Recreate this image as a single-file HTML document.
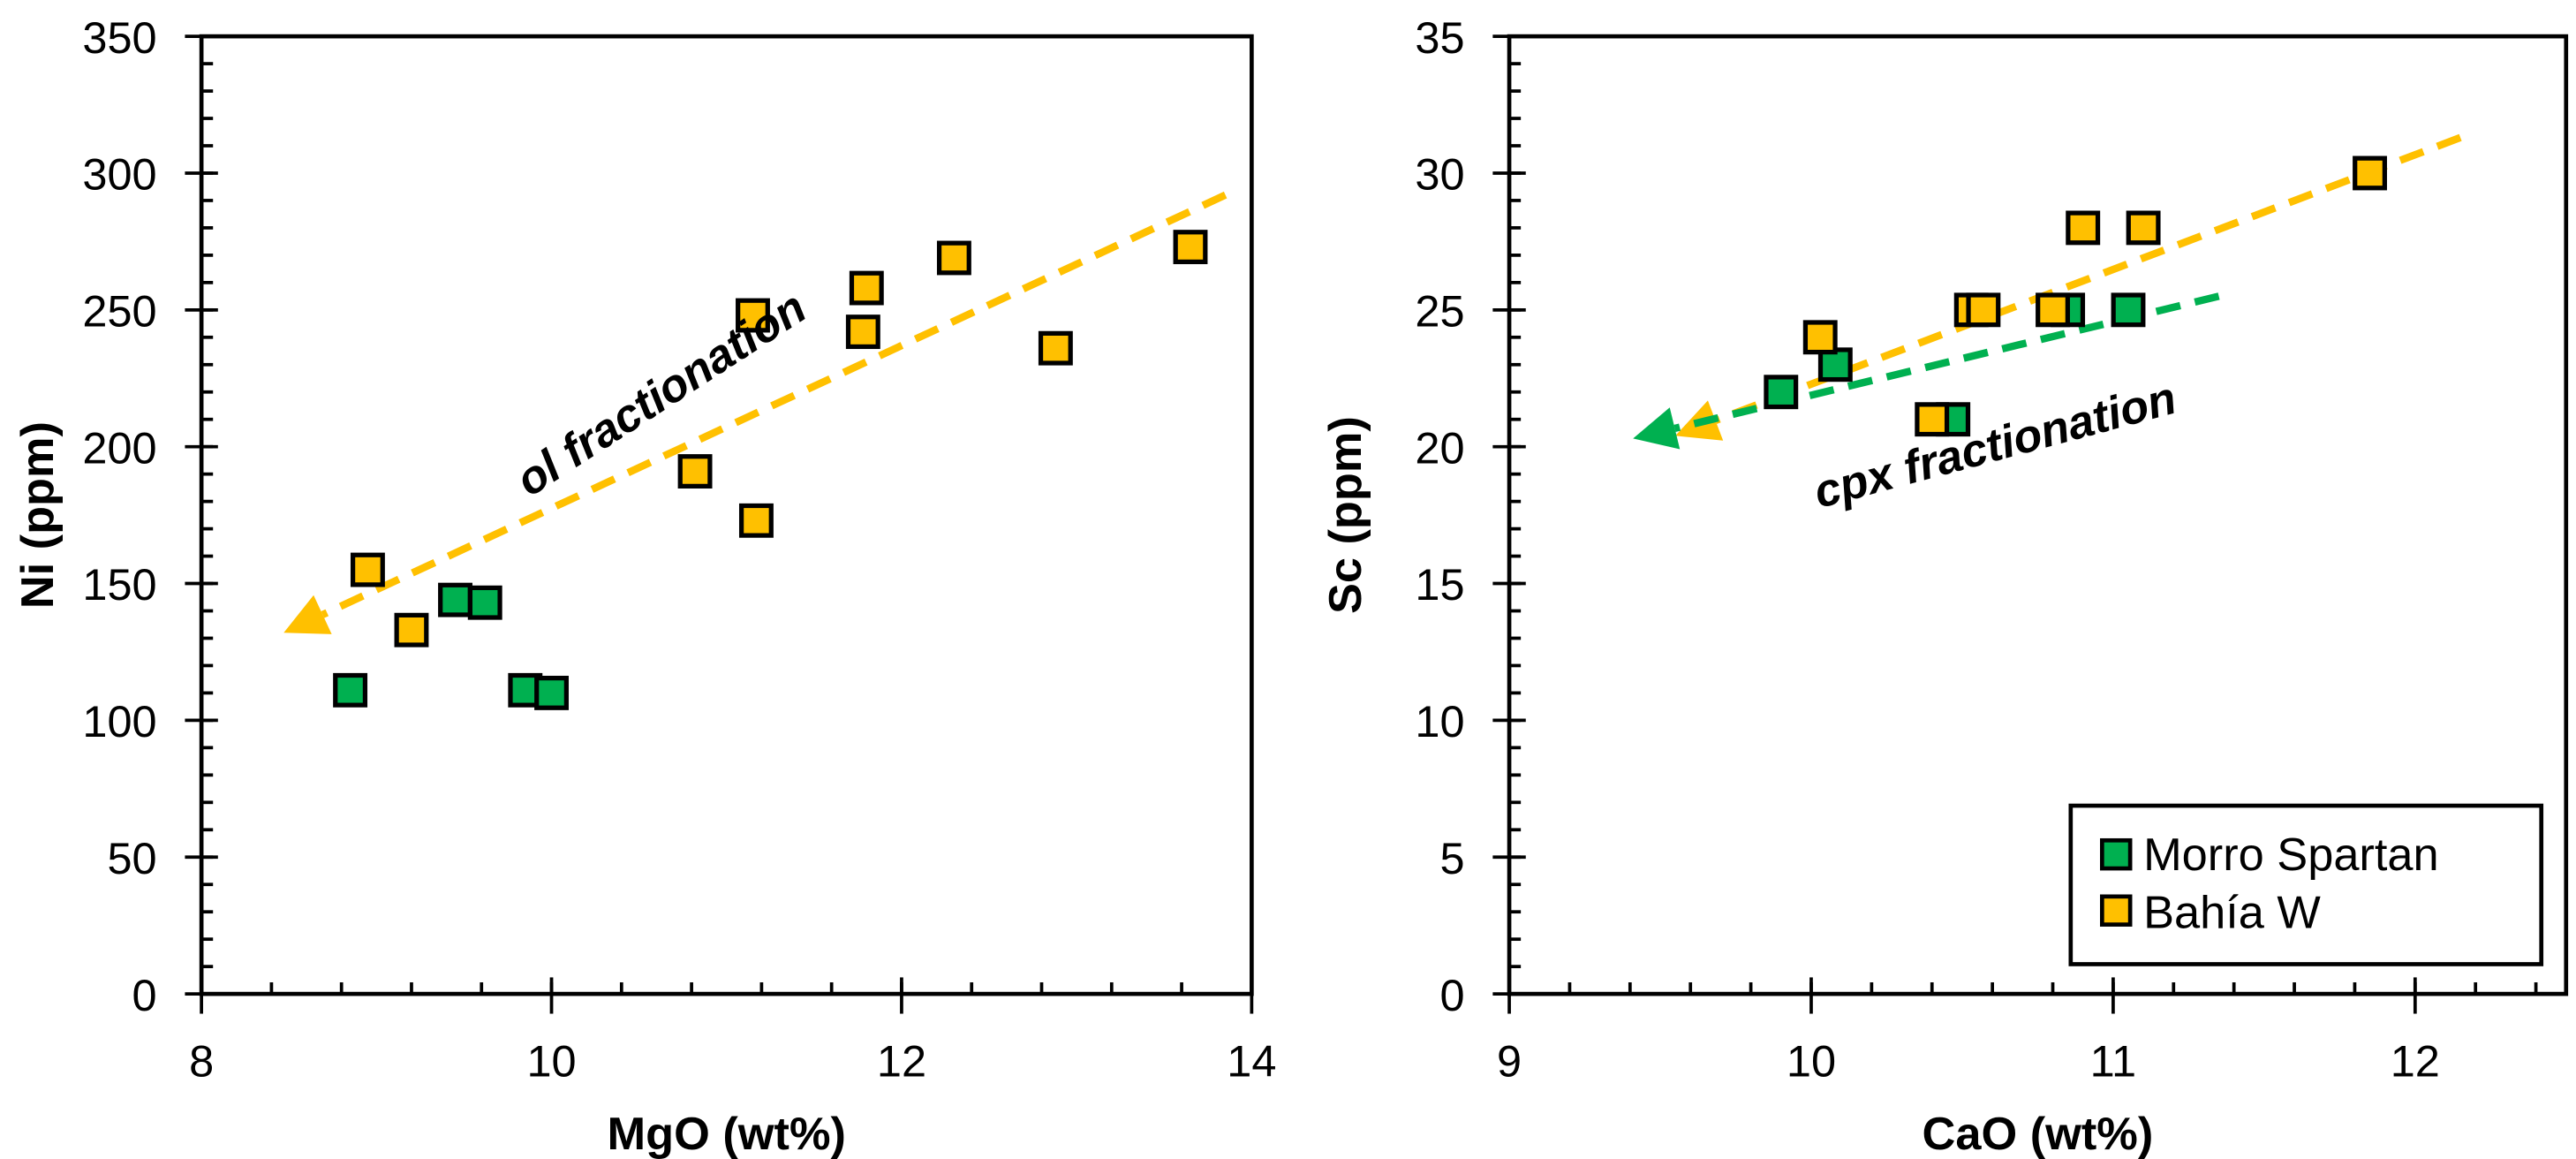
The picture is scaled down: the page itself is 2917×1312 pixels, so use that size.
<!DOCTYPE html>
<html><head><meta charset="utf-8"><style>
html,body{margin:0;padding:0;background:#fff;}
svg{display:block;font-family:"Liberation Sans",sans-serif;}
</style></head><body>
<svg id="chart" width="2917" height="1312" viewBox="0 0 1560 702" preserveAspectRatio="none" xmlns="http://www.w3.org/2000/svg">
<g id="left"></g>
<g id="right"></g>
</svg>
<script>
// Left panel data
const mgoYellow = [8.95, 9.2, 10.82, 11.15, 11.17, 11.78, 11.8, 12.3, 12.88, 13.65];
const niYellow  = [155, 133, 191, 248, 173, 242, 258, 269, 236, 273];
const mgoGreen  = [8.85, 9.45, 9.62, 9.85, 10.0];
const niGreen   = [111, 144, 143, 111, 110];
const leftXTicks = [8, 10, 12, 14];
const leftYTicks = [0, 50, 100, 150, 200, 250, 300, 350];
// Right panel data
const caoYellow = [10.03, 10.4, 10.53, 10.57, 10.8, 10.9, 11.1, 11.85];
const scYellow  = [24, 21, 25, 25, 25, 28, 28, 30];
const caoGreen  = [9.9, 10.08, 10.47, 10.85, 11.05];
const scGreen   = [22, 23, 21, 25, 25];
const rightXTicks = [9, 10, 11, 12];
const rightYTicks = [0, 5, 10, 15, 20, 25, 30, 35];
// trend lines [x0,y0,x1(tip),y1(tip)]
const olTrend = [13.85, 292, 8.47, 132];
const cpxTrendBahia = [12.15, 31.3, 9.55, 20.4];
const cpxTrendMorro = [11.35, 25.5, 9.41, 20.3];

const NS = "http://www.w3.org/2000/svg";
const YEL = "#FFC000", GRN = "#00B050";
function mk(parent, tag, attrs, text){
  const e = document.createElementNS(NS, tag);
  for (const k in attrs) e.setAttribute(k, attrs[k]);
  if (text !== undefined) e.textContent = text;
  parent.appendChild(e);
  return e;
}
function scale(d0,d1,r0,r1){ return v => r0 + (v-d0)/(d1-d0)*(r1-r0); }

function panel(g, cfg){
  const X = scale(cfg.xmin, cfg.xmax, cfg.px0, cfg.px1);
  const Y = scale(cfg.ymin, cfg.ymax, 602, 22);
  let f = mk(g,'rect',{x:cfg.px0,y:22,width:cfg.px1-cfg.px0,height:580,fill:'none',stroke:'#000','stroke-width':2.5});
   
  for (let v=cfg.xmin; v<=cfg.xmax+1e-9; v+=cfg.xminor){
    mk(g,'line',{x1:X(v),x2:X(v),y1:602,y2:595,stroke:'#000','stroke-width':2});
  }
  for (let v=cfg.ymin; v<=cfg.ymax+1e-9; v+=cfg.yminor){
    mk(g,'line',{x1:cfg.px0,x2:cfg.px0+7,y1:Y(v),y2:Y(v),stroke:'#000','stroke-width':2});
  }
  cfg.xt.forEach(v=>{
    mk(g,'line',{x1:X(v),x2:X(v),y1:592,y2:614,stroke:'#000','stroke-width':2});
    const t = mk(g,'text',{x:X(v),y:652,'text-anchor':'middle','font-size':27},String(v));
     
  });
  cfg.yt.forEach(v=>{
    mk(g,'line',{x1:cfg.px0-10,x2:cfg.px0+10,y1:Y(v),y2:Y(v),stroke:'#000','stroke-width':2});
    const t = mk(g,'text',{x:cfg.px0-27,y:Y(v)+10,'text-anchor':'end','font-size':27},String(v));
     
  });
  let xt = mk(g,'text',{x:(cfg.px0+cfg.px1)/2,y:696,'text-anchor':'middle','font-size':28,'font-weight':'bold'},cfg.xlabel);
   
  const ycx = cfg.px0-90, ycy = 312;
  let yt = mk(g,'text',{x:ycx,y:ycy,'text-anchor':'middle','font-size':28,'font-weight':'bold',transform:`rotate(-90 ${ycx} ${ycy})`},cfg.ylabel);
   
  cfg.trends.forEach(tr=>{
    const [a,b,c,d,col,name] = tr;
    const x0=X(a),y0=Y(b),x1=X(c),y1=Y(d);
    const ang = Math.atan2(y1-y0,x1-x0), L=26, W=13;
    const bx = x1-L*Math.cos(ang), by = y1-L*Math.sin(ang);
    let l = mk(g,'line',{x1:x0,y1:y0,x2:bx,y2:by,stroke:col,'stroke-width':4.5,'stroke-dasharray':'15 9'});
     
    const px = -Math.sin(ang), py = Math.cos(ang);
    let h = mk(g,'polygon',{points:`${x1},${y1} ${bx+W*px},${by+W*py} ${bx-W*px},${by-W*py}`,fill:col});
     
  });
  const drawPts=(xs,ys,col,name)=>{
    xs.forEach((v,i)=>{
      let r = mk(g,'rect',{x:X(v)-9,y:Y(ys[i])-9,width:18,height:18,fill:col,stroke:'#000','stroke-width':2.8});
       
    });
  };
  drawPts(cfg.gx,cfg.gy,GRN,'morro-spartan-point');
  drawPts(cfg.yx,cfg.yy,YEL,'bahia-w-point');
}

panel(document.getElementById('left'),{xmin:8,xmax:14,px0:122,px1:758,ymin:0,ymax:350,xminor:0.4,yminor:10,
  xt:leftXTicks,yt:leftYTicks,xlabel:'MgO (wt%)',ylabel:'Ni (ppm)',
  trends:[[...olTrend,YEL,'ol-fractionation-trend']],
  gx:mgoGreen,gy:niGreen,yx:mgoYellow,yy:niYellow});
panel(document.getElementById('right'),{xmin:9,xmax:12.5,px0:914,px1:1554,ymin:0,ymax:35,xminor:0.2,yminor:1,
  xt:rightXTicks,yt:rightYTicks,xlabel:'CaO (wt%)',ylabel:'Sc (ppm)',
  trends:[[...cpxTrendBahia,YEL,'cpx-trend-bahia'],[...cpxTrendMorro,GRN,'cpx-trend-morro']],
  gx:caoGreen,gy:scGreen,yx:caoYellow,yy:scYellow});

const svg = document.getElementById('chart');
let a1 = mk(svg,'text',{x:400,y:248,'text-anchor':'middle','font-size':28,'font-weight':'bold','font-style':'italic',transform:'rotate(-33 400 238)'},'ol fractionation');
 
let a2 = mk(svg,'text',{x:1208,y:279,'text-anchor':'middle','font-size':28,'font-weight':'bold','font-style':'italic',transform:'rotate(-15 1208 269)'},'cpx fractionation');
 

const lg = mk(svg,'g',{});
 
mk(lg,'rect',{x:1254,y:488,width:285,height:96,fill:'#fff',stroke:'#000','stroke-width':2.5});
let s1 = mk(lg,'rect',{x:1273,y:509,width:17,height:17,fill:GRN,stroke:'#000','stroke-width':2.5});
 
let t1 = mk(lg,'text',{x:1298,y:527,'font-size':28},'Morro Spartan');
 
let s2 = mk(lg,'rect',{x:1273,y:543,width:17,height:17,fill:YEL,stroke:'#000','stroke-width':2.5});
 
let t2 = mk(lg,'text',{x:1298,y:562,'font-size':28},'Bahía W');
 
</script>
</body></html>
